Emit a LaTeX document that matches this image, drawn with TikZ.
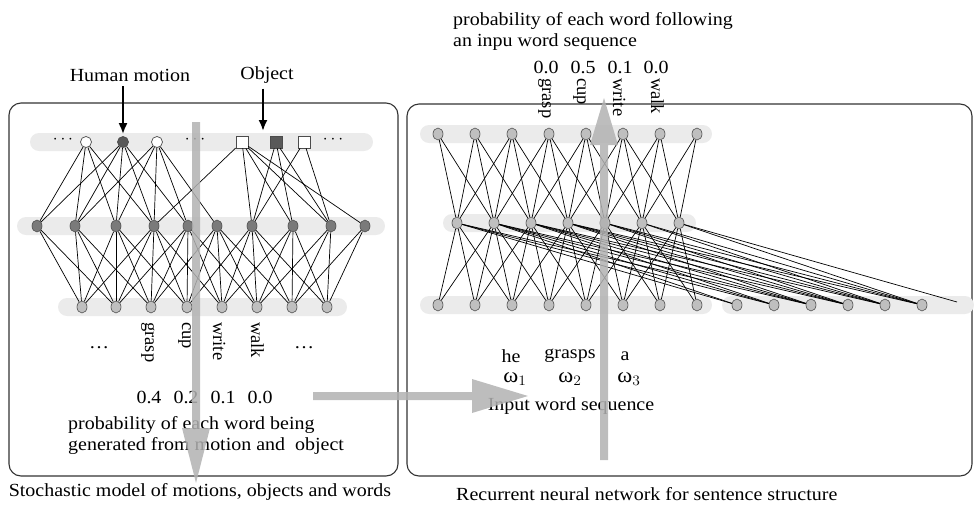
\documentclass[tikz,border=0pt]{standalone}
\usepackage{fontspec}
\setmainfont{Liberation Serif}
\usetikzlibrary{shapes.geometric,arrows.meta}

\tikzset{
  lbl/.style={font=\fontsize{18.5}{21}\selectfont,inner sep=0pt,xscale=1.08},
  vlbl/.style={font=\fontsize{18.5}{21}\selectfont,inner sep=0pt,text height=12pt,text depth=4pt,rotate=-90,anchor=west},
  band/.style={fill=black!8,rounded corners=9pt},
  panel/.style={draw=black!80,line width=1.1pt,rounded corners=12pt},
  wire/.style={line width=0.7pt},
  neuron/.style={ellipse,draw=black!70,fill=black!25,minimum width=10pt,minimum height=12pt,inner sep=0pt,line width=0.6pt},
  dneuron/.style={neuron,fill=black!52},
  oneuron/.style={circle,draw=black!70,fill=white,minimum size=11pt,inner sep=0pt,line width=0.7pt},
  sqneuron/.style={rectangle,draw=black!70,fill=white,minimum size=12pt,inner sep=0pt,line width=0.7pt},
  bigarrow/.style={fill=black!30,opacity=0.85},
  thinarrow/.style={line width=2pt,-{Latex[length=11pt,width=9pt]}},
}

\begin{document}
\begin{tikzpicture}[x=1pt,y=-1pt]
  \useasboundingbox (0,0) rectangle (974,507);
  % panels
  \draw[panel] (9,103) rectangle (398,476);
  \draw[panel] (407,104) rectangle (972,476);
  % layer bands
  \fill[band] (30,133) rectangle (373,151);
  \fill[band] (17,217) rectangle (385,235);
  \fill[band] (58,298) rectangle (347,316);
  \fill[band] (420,125) rectangle (712,143);
  \fill[band] (443,214) rectangle (696,232);
  \fill[band] (420,296) rectangle (712,314);
  \fill[band] (722,296) rectangle (974,314);

  % left network
  \node[oneuron] (c1) at (86,142) {};
  \node[oneuron,fill=black!65] (c2) at (123,142) {};
  \node[oneuron] (c3) at (157,142) {};
  \node[sqneuron] (s1) at (242,142) {};
  \node[sqneuron,fill=black!65] (s2) at (276,142) {};
  \node[sqneuron] (s3) at (304,142) {};
  \foreach \x [count=\i] in {63,195,333}
    \node[font=\fontsize{17}{17}\selectfont,inner sep=0pt] (dd\i) at (\x,140) {$\cdots$};
  \foreach \x [count=\i] in {37,75,116,154,188,217,252,293,331,365}
    \node[dneuron] (m\i) at (\x,226) {};
  \foreach \x [count=\i] in {82,116,151,187,222,257,292,327}
    \node[neuron] (b\i) at (\x,307) {};
  \foreach \a/\bs in {c1/{1,2,3,4},c2/{1,2,3,4,5},c3/{2,3,4,5,6},s1/{4,7,8,9,10},s2/{7,8,9},s3/{7,9}}
    \foreach \b in \bs \draw[wire] (\a) -- (m\b);
  \foreach \a/\bs in {1/{1,2},2/{1,2,3},3/{1,2,3,4},4/{1,2,3,4,5},5/{2,3,4,5,6},6/{3,4,5,6,7},7/{4,5,6,7,8},8/{5,6,7,8},9/{6,7,8},10/{7,8}}
    \foreach \b in \bs \draw[wire] (m\a) -- (b\b);

  % right network
  \foreach \i in {1,...,8} \node[neuron] (out\i) at ({438+37*(\i-1)},134) {};
  \foreach \i in {1,...,7} \node[neuron] (hid\i) at ({457+37*(\i-1)},223) {};
  \foreach \i in {1,...,8} \node[neuron] (inp\i) at ({438+37*(\i-1)},305) {};
  \foreach \i in {1,...,6} \node[neuron] (ctx\i) at ({737+37*(\i-1)},305) {};
  \coordinate (ctx7) at (957,302);
  \foreach \j in {1,...,7}
    \foreach \d in {-1,0,1,2}{
      \pgfmathtruncatemacro\k{\j+\d}
      \ifnum\k>0 \ifnum\k<9
        \draw[wire] (hid\j) -- (out\k);
        \draw[wire] (hid\j) -- (inp\k);
      \fi\fi
      \ifnum\k>0 \ifnum\k<7 \draw[wire] (hid\j) -- (ctx\k); \fi\fi}
  \draw[wire] (hid7) -- (ctx7);

  % labels left
  \node[lbl] (hm) at (130,75) {Human motion};
  \node[lbl] (obj) at (267,75) {Object};
  \coordinate (objtip) at (263,131);
  \draw[thinarrow,shorten <=5pt,shorten >=2pt] (hm.south -| c2) -- (c2);
  \draw[thinarrow,shorten <=5pt] (obj.south -| objtip) -- (objtip);
  \foreach \w/\x [count=\i] in {grasp/149,cup/186,write/217,walk/255}
    \node[vlbl] (lw\i) at (\x,322) {\w};
  \node[lbl] (ld1) at (99,348) {\dots};
  \node[lbl] (ld2) at (304,348) {\dots};
  \foreach \n/\x [count=\i] in {0.4/149,0.2/186,0.1/223,0.0/260}
    \node[lbl] (lp\i) at (\x,397) {\n};
  \node[lbl,anchor=west,align=left] (gen) at (68,435) {probability of each word being\\generated from motion and\ \ object};
  \node[lbl] (capl) at (200,492) {Stochastic model of motions, objects and words};

  % labels right
  \node[lbl,anchor=west,align=left] (ttl) at (453,31) {probability of each word following\\an inpu word sequence};
  \foreach \n/\x [count=\i] in {0.0/546,0.5/583,0.1/620,0.0/656}
    \node[lbl] (tp\i) at (\x,67) {\n};
  \foreach \w/\x [count=\i] in {grasp/546,cup/581,write/617,walk/655}
    \node[vlbl] (tw\i) at (\x,78) {\w};
  \node[lbl] (he) at (511,356) {he};
  \node[lbl] (grasps) at (570,356) {grasps};
  \node[lbl] (wa) at (625,356) {a};
  \node[lbl] (om1) at (515,379) {\fontsize{21}{21}\selectfont ω$_1$};
  \node[lbl] (om2) at (570,379) {\fontsize{21}{21}\selectfont ω$_2$};
  \node[lbl] (om3) at (629,379) {\fontsize{21}{21}\selectfont ω$_3$};
  \node[lbl] (inws) at (571,406) {Input word sequence};
  \node[lbl,anchor=west] (capr) at (456,494) {Recurrent neural network for sentence structure};

  % flow arrows
  \fill[bigarrow] (192,122) -- (200,122) -- (200,428) -- (210,428) -- (196,483) -- (182,428) -- (192,428) -- cycle;
  \fill[bigarrow] (313,392) -- (472,392) -- (472,379) -- (528,396) -- (472,413) -- (472,400) -- (313,400) -- cycle;
  \fill[bigarrow] (600,460) -- (600,145) -- (590,145) -- (604,98) -- (618,145) -- (608,145) -- (608,460) -- cycle;
\end{tikzpicture}
\end{document}
